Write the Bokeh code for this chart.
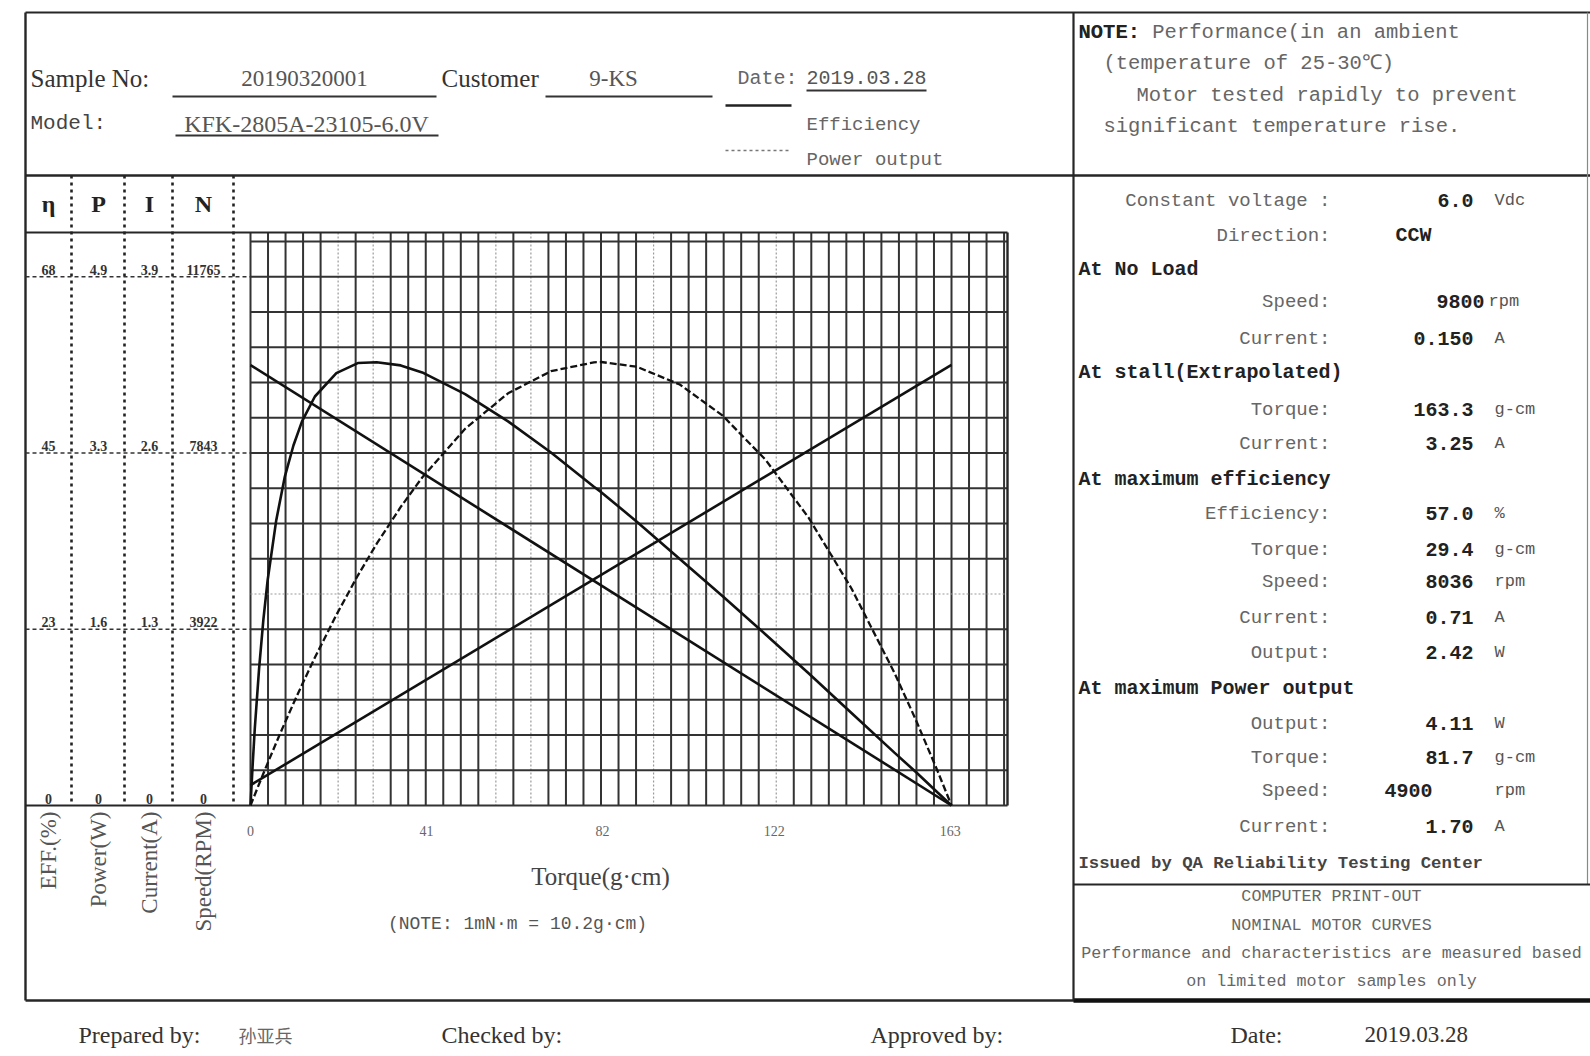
import math
from bokeh.plotting import figure
from bokeh.models import Range1d
from bokeh.core.properties import value
from bokeh.embed import file_html
from bokeh.resources import INLINE

# ---------------- data ----------------
torque_pts = [0, 0.5, 1, 2, 3, 4, 6, 8, 10, 12, 15, 20, 25, 29.4, 35, 40, 50, 60, 70, 80,
              81.7, 90, 100, 110, 120, 130, 140, 150, 155, 160, 163.3]
eff_pct = [0, 5.2, 9.9, 17.6, 23.9, 29.0, 36.7, 42.3, 46.3, 49.4, 52.6, 55.6, 56.9, 57.0, 56.6,
           55.7, 52.9, 49.4, 45.4, 41.0, 40.3, 36.5, 31.7, 26.9, 22.0, 17.0, 11.9, 6.8, 4.3, 1.7, 0]
power_w = [0, 0.050, 0.100, 0.199, 0.296, 0.393, 0.582, 0.766, 0.945, 1.119, 1.371, 1.766,
           2.131, 2.426, 2.767, 3.040, 3.491, 3.820, 4.025, 4.107, 4.110, 4.066, 3.901, 3.613,
           3.203, 2.668, 2.011, 1.230, 0.793, 0.325, 0]
line_torque = [0, 163.3]
speed_rpm = [9800, 0]
current_a = [0.150, 3.25]

torque_ticks = [0, 41, 82, 122, 163]
torque_tick_labels = ["0", "41", "82", "122", "163"]

eff_ticks = [0, 22.67, 45.33, 68]
eff_tick_labels = ["0", "23", "45", "68"]
power_ticks = [0, 1.633, 3.267, 4.9]
power_tick_labels = ["0", "1.6", "3.3", "4.9"]
current_ticks = [0, 1.3, 2.6, 3.9]
current_tick_labels = ["0", "1.3", "2.6", "3.9"]
speed_ticks = [0, 3922, 7843, 11765]
speed_tick_labels = ["0", "3922", "7843", "11765"]

axis_max = {"eff": 68, "power": 4.9, "current": 3.9, "speed": 11765}
axis_names = ["EFF.(%)", "Power(W)", "Current(A)", "Speed(RPM)"]
col_heads = ["η", "P", "I", "N"]

spec_labels = ["Constant voltage :", "Direction:", "At No Load", "Speed:", "Current:",
               "At stall(Extrapolated)", "Torque:", "Current:", "At maximum efficiency",
               "Efficiency:", "Torque:", "Speed:", "Current:", "Output:",
               "At maximum Power output", "Output:", "Torque:", "Speed:", "Current:"]
spec_values = ["6.0", "CCW", "", "9800", "0.150", "", "163.3", "3.25", "", "57.0", "29.4",
               "8036", "0.71", "2.42", "", "4.11", "81.7", "4900", "1.70"]
spec_units = ["Vdc", "", "", "rpm", "A", "", "g-cm", "A", "", "%", "g-cm", "rpm", "A", "W",
              "", "W", "g-cm", "rpm", "A"]

# ---------------- layout ----------------
W, H = 1590, 1056
p = figure(width=W, height=H, x_range=Range1d(0, W), y_range=Range1d(H, 0),
           x_axis_location=None, y_axis_location=None, toolbar_location=None,
           output_backend="svg", min_border=0, outline_line_color=None)
p.grid.visible = False

CX0, CX163 = 250, 951
TK = (CX163 - CX0) / 163.3
CY0, CYTOP = 805, 276.25
YSPAN = CY0 - CYTOP
CHART_RIGHT, CHART_TOP = 1007, 232
p.extra_x_ranges = {"torque": Range1d((0 - CX0) / TK, (W - CX0) / TK)}
p.extra_y_ranges = {k: Range1d((CY0 - H) / YSPAN * m, (CY0 - 0) / YSPAN * m)
                    for k, m in axis_max.items()}

INK = "#262626"


def seg(x0, y0, x1, y1, color=INK, width=2, dash="solid", **kw):
    p.segment(x0=x0, y0=y0, x1=x1, y1=y1, line_color=color, line_width=width,
              line_dash=dash, **kw)


def txt(xs, ys, texts, font="Liberation Mono", size=18, color="#333", align="left",
        baseline="middle", style="normal", angle=0, **kw):
    p.text(x=xs, y=ys, text=texts, text_font=value(font), text_font_size=value(f"{size}px"),
           text_color=color, text_align=align, text_baseline=baseline,
           text_font_style=style, angle=angle, **kw)


# ---- chart grid ----
t_step = 163.3 / 40
t_right = (CHART_RIGHT - CX0) / TK
n_vert = int(t_right / t_step)
faint_v = {5, 7, 14, 16, 23, 30}
gx_dark = [i * t_step for i in range(n_vert + 1) if i not in faint_v]
gx_faint = [i * t_step for i in sorted(faint_v)]
seg(gx_faint, CHART_TOP, gx_faint, CY0, color="#9a9a9a", width=1.2, dash="2 2",
    x_range_name="torque")
seg(gx_dark, CHART_TOP, gx_dark, CY0, color="#333333", width=2.0, x_range_name="torque")
s_step = 11765 / 15
gy_dark = [j * s_step for j in range(17) if j != 6]
gy_faint = [6 * s_step]
seg(0, gy_faint, t_right, gy_faint, color="#9a9a9a", width=1.2, dash="2 2",
    x_range_name="torque", y_range_name="speed")
seg(0, gy_dark, t_right, gy_dark, color="#333333", width=2.0,
    x_range_name="torque", y_range_name="speed")
seg(t_right, CHART_TOP, t_right, CY0, color=INK, width=2.4, x_range_name="torque")

# ---- curves ----
p.line(torque_pts, eff_pct, x_range_name="torque", y_range_name="eff",
       line_color="#111", line_width=2.6)
p.line(torque_pts, power_w, x_range_name="torque", y_range_name="power",
       line_color="#111", line_width=2.3, line_dash="7 3")
p.line(line_torque, speed_rpm, x_range_name="torque", y_range_name="speed",
       line_color="#111", line_width=2.6)
p.line(line_torque, current_a, x_range_name="torque", y_range_name="current",
       line_color="#111", line_width=2.6)

# torque tick labels & titles
txt(torque_ticks, 830, torque_tick_labels, font="Liberation Serif", size=14, color="#666",
    align="center", x_range_name="torque")
txt([600], [876], ["Torque(g·cm)"], font="Liberation Serif", size=25, color="#444",
    align="center")
txt([517], [923], ["(NOTE: 1mN·m = 10.2g·cm)"], font="Liberation Mono", size=18,
    color="#555", align="center")

# ---- outer frame ----
RIGHT = W - 3
seg(25, 12, W, 12, width=2.2)
seg(25, 175, W, 175, width=2.6)
seg(25, CHART_TOP, CHART_RIGHT, CHART_TOP, width=2.2)
seg(25, 1000, W, 1000, width=2.4)
seg(1073, 1000, W, 1000, width=4.5, color="#111")
seg(25, 12, 25, 1000, width=2.4)
seg(1073, 12, 1073, 1000, width=2.2)
seg(RIGHT, 12, RIGHT, 884, width=1.2, color="#888")
seg(1073, 884, W, 884, width=2.2)
seg(25, CY0, CX0, CY0, width=2.2)

# ---- left value columns ----
col_sep = [71, 124, 172, 233]
seg(col_sep, 175, col_sep, CY0, width=2.6, dash="3 4", color="#222")
seg(25, speed_ticks[1:], CX0, speed_ticks[1:], width=1.6, dash="4 3", color="#333",
    y_range_name="speed")
col_cx = [48, 98, 149, 203]
txt(col_cx, [203] * 4, col_heads, font="Liberation Serif", size=24, color="#222",
    align="center", style="bold")
for cx, tv, tl, rn in zip(col_cx,
                          [eff_ticks, power_ticks, current_ticks, speed_ticks],
                          [eff_tick_labels, power_tick_labels, current_tick_labels,
                           speed_tick_labels],
                          ["eff", "power", "current", "speed"]):
    txt([cx] * len(tv), tv, tl, font="Liberation Serif", size=14, color="#333",
        align="center", baseline="bottom", style="bold", y_range_name=rn, y_offset=-2)
txt(col_cx, [811] * 4, axis_names, font="Liberation Serif", size=23, color="#555",
    align="right", angle=math.pi / 2)

# ---- header (top-left) ----
txt([30, 441], [78, 78], ["Sample No:", "Customer"], font="Liberation Serif", size=25,
    color="#333")
txt([737], [78], ["Date:"], size=20, color="#666")
txt([806], [77], ["2019.03.28"], size=20, color="#555")
txt([30], [123], ["Model:"], size=21, color="#444")
txt([304, 613], [78, 78], ["20190320001", "9-KS"], font="Liberation Serif", size=23,
    color="#555", align="center")
txt([306], [123], ["KFK-2805A-23105-6.0V"], font="Liberation Serif", size=24,
    color="#555", align="center")
seg([172, 545, 175, 806], [96, 96, 135, 90], [436, 712, 438, 926], [96, 96, 135, 90],
    width=2.2, color="#333")
seg(725, 105, 791, 105, width=2.4, color="#222")
seg(725, 150, 789, 150, width=1.6, dash="3 3", color="#777")
txt([806, 806], [124, 159], ["Efficiency", "Power output"], size=19, color="#666")

# ---- note (top-right) ----
txt([1078, 1103, 1136, 1103], [32, 63, 95, 126],
    ["NOTE:  Performance(in an ambient", "(temperature of 25-30℃)",
     "Motor tested rapidly to prevent", "significant temperature rise."],
    size=20.5, color="#666")
txt([1078], [32], ["NOTE:"], size=20.5, color="#222", style="bold")

# ---- specification panel ----
spec_y = [200, 235, 269, 301, 338, 372, 409, 443, 479, 513, 549, 581, 617, 652, 688, 723,
          757, 790, 826]
val_x_override = {1: ("left", 1395), 3: ("right", 1484), 17: ("right", 1432)}
unit_x_override = {3: 1488}
for i, (lab, val, unit) in enumerate(zip(spec_labels, spec_values, spec_units)):
    y = spec_y[i]
    if val == "":
        txt([1078], [y], [lab], size=20, color="#222", style="bold")
        continue
    txt([1330], [y], [lab], size=19, color="#666", align="right")
    al, vx = val_x_override.get(i, ("right", 1473))
    txt([vx], [y], [val], size=20, color="#222", style="bold", align=al)
    if unit:
        txt([unit_x_override.get(i, 1494)], [y], [unit], size=17, color="#555")
txt([1078], [863], ["Issued by QA Reliability Testing Center"], size=17.3, color="#444",
    style="bold")
txt([1331] * 4, [896, 925, 953, 981],
    ["COMPUTER PRINT-OUT", "NOMINAL MOTOR CURVES",
     "Performance and characteristics are measured based", "on limited motor samples only"],
    size=16.7, color="#666", align="center")

# ---- footer ----
txt([78, 441, 870, 1230], [1034] * 4, ["Prepared by:", "Checked by:", "Approved by:", "Date:"],
    font="Liberation Serif", size=24, color="#333")
txt([238], [1034], ["孙亚兵"], font="Noto Sans CJK SC", size=18, color="#666")
txt([1364], [1034], ["2019.03.28"], font="Liberation Serif", size=23, color="#333")

open("out.html", "w").write(file_html(p, INLINE))
